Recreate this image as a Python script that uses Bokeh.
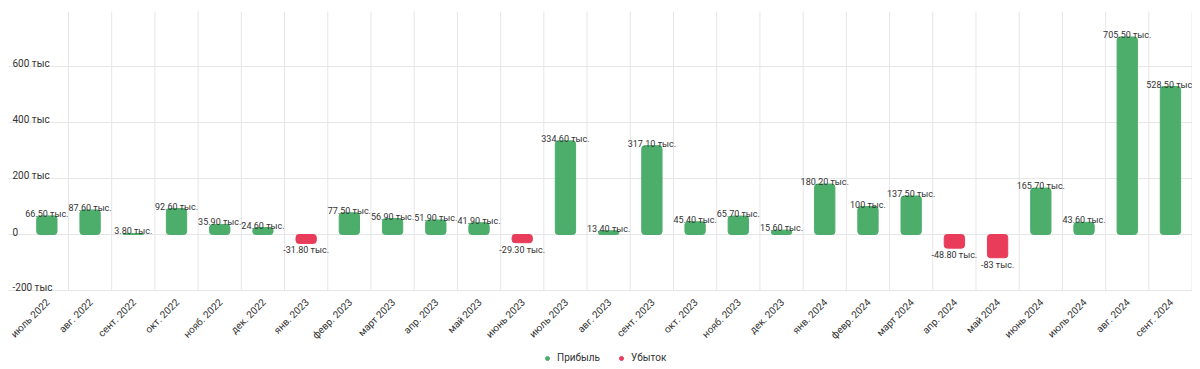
import math
from bokeh.plotting import figure
from bokeh.models import (ColumnDataSource, Range1d, Legend, LegendItem)
from bokeh.embed import file_html
from bokeh.resources import INLINE
from bokeh.core.properties import value

months = ["июль 2022", "авг. 2022", "сент. 2022", "окт. 2022", "нояб. 2022", "дек. 2022",
          "янв. 2023", "февр. 2023", "март 2023", "апр. 2023", "май 2023", "июнь 2023",
          "июль 2023", "авг. 2023", "сент. 2023", "окт. 2023", "нояб. 2023", "дек. 2023",
          "янв. 2024", "февр. 2024", "март 2024", "апр. 2024", "май 2024", "июнь 2024",
          "июль 2024", "авг. 2024", "сент. 2024"]
values_k = [66.5, 87.6, 3.8, 92.6, 35.9, 24.6, -31.8, 77.5, 56.9, 51.9, 41.9, -29.3,
            334.6, 13.4, 317.1, 45.4, 65.7, 15.6, 180.2, 100, 137.5, -48.8, -83, 165.7,
            43.6, 705.5, 528.5]
y_ticks = [-200, 0, 200, 400, 600]
y_tick_labels = ["-200 тыс", "0", "200 тыс", "400 тыс", "600 тыс"]
series_names = ["Прибыль", "Убыток"]
series_colors = ["#4dae6c", "#e83c5a"]

FONT = "Roboto"
TXT = "#333333"
GRID = "#e6e6e6"

# layout constants (frame covers the whole figure)
Y_MIN, Y_MAX = -482.1, 835.7
AX_BOTTOM, AX_TOP = -200, 796.4
X_LEFT, X_RIGHT = -0.573, 27.01
GRID_LEFT = -0.388

def fmt(v):
    if float(v).is_integer():
        return "%d тыс." % int(v)
    return "%.2f тыс." % v

n = len(months)
xs = [i + 0.5 for i in range(n)]
pos = [v >= 0 for v in values_k]
src = ColumnDataSource(dict(
    x=xs,
    top=[max(v, 0) for v in values_k],
    bottom=[min(v, 0) for v in values_k],
    color=[series_colors[0] if p_ else series_colors[1] for p_ in pos],
))
pos_src = ColumnDataSource(dict(
    x=[x for x, p_ in zip(xs, pos) if p_],
    y=[v for v, p_ in zip(values_k, pos) if p_],
    label=[fmt(v) for v, p_ in zip(values_k, pos) if p_],
))
neg_src = ColumnDataSource(dict(
    x=[x for x, p_ in zip(xs, pos) if not p_],
    y=[v for v, p_ in zip(values_k, pos) if not p_],
    label=[fmt(v) for v, p_ in zip(values_k, pos) if not p_],
))

p = figure(width=1192, height=369, output_backend="svg", toolbar_location=None,
           x_range=Range1d(X_LEFT, X_RIGHT), y_range=Range1d(Y_MIN, Y_MAX),
           min_border_left=0, min_border_right=0, min_border_top=0, min_border_bottom=0)
p.outline_line_color = None
p.xaxis.visible = False
p.yaxis.visible = False
p.xgrid.visible = False
p.ygrid.visible = False

# horizontal grid lines at the y ticks
k = len(y_ticks)
p.segment(x0=[GRID_LEFT] * k, x1=[n] * k, y0=y_ticks, y1=y_ticks,
          line_color=GRID, line_width=1)
# vertical category separators
bounds = list(range(1, n + 1))
p.segment(x0=bounds, x1=bounds, y0=[AX_BOTTOM] * n, y1=[AX_TOP] * n,
          line_color=GRID, line_width=1)

p.vbar(x="x", top="top", bottom="bottom", width=0.47, fill_color="color", source=src,
       line_color="color", line_width=1, border_radius=3)

p.text(x="x", y="y", text="label", source=pos_src, text_align="center",
       text_baseline="alphabetic", y_offset=-2, text_font=value(FONT),
       text_font_size="9px", text_color=TXT)
p.text(x="x", y="y", text="label", source=neg_src, text_align="center",
       text_baseline="top", y_offset=2, text_font=value(FONT),
       text_font_size="9px", text_color=TXT)

# y tick labels inside the plot area
ysrc = ColumnDataSource(dict(x=[X_LEFT] * k, y=y_ticks, t=y_tick_labels))
p.text(x="x", y="y", text="t", source=ysrc, text_align="left", text_baseline="alphabetic",
       x_offset=12, y_offset=-3, text_font=value(FONT), text_font_size="10px", text_color=TXT)

# x category labels (rotated)
xsrc = ColumnDataSource(dict(x=xs, y=[AX_BOTTOM] * n, t=months))
p.text(x="x", y="y", text="t", source=xsrc, angle=math.pi / 4, text_align="right",
       text_baseline="middle", x_offset=1, y_offset=10, text_font=value(FONT),
       text_font_size="10px", text_color=TXT)

r1 = p.scatter(x=[0], y=[-2000], marker="circle", size=9, color=series_colors[0])
r2 = p.scatter(x=[0], y=[-2000], marker="circle", size=9, color=series_colors[1])
legend = Legend(items=[LegendItem(label=series_names[0], renderers=[r1]),
                       LegendItem(label=series_names[1], renderers=[r2])],
                orientation="horizontal", location=(542, 6),
                label_text_font=FONT, label_text_font_size="10px", label_text_color=TXT,
                glyph_width=10, glyph_height=10, label_height=10, label_standoff=5,
                spacing=16, padding=0, margin=0,
                border_line_color=None, background_fill_alpha=0)
p.add_layout(legend, "center")

open("out.html", "w").write(file_html(p, INLINE))
